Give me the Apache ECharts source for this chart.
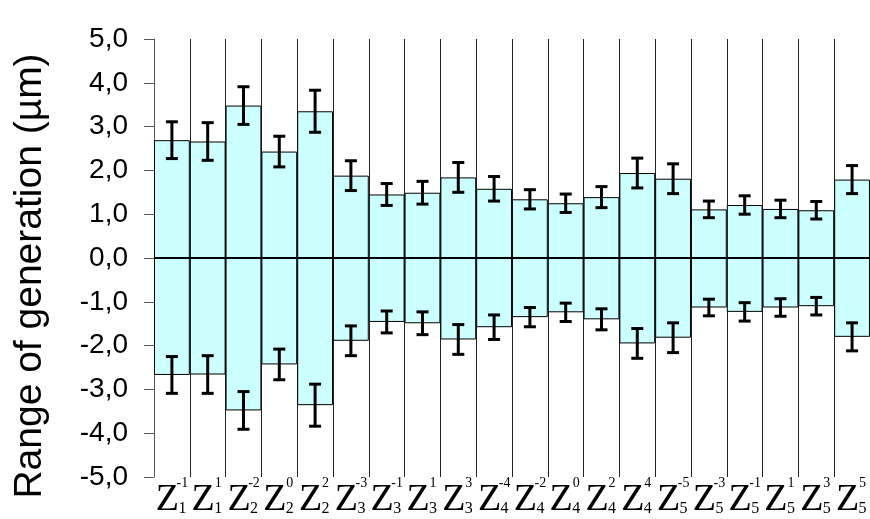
<!DOCTYPE html>
<html>
<head>
<meta charset="utf-8">
<script src="https://cdn.jsdelivr.net/npm/echarts@6/dist/echarts.min.js"></script>
<style>
html,body{margin:0;padding:0;background:#fff;}
#c{width:870px;height:519px;}
</style>
</head>
<body>
<div id="c"></div>
<script>
// Zernike indices for the category labels: Z_n^m
var zernikeN = [1, 1, 2, 2, 2, 3, 3, 3, 3, 4, 4, 4, 4, 4, 5, 5, 5, 5, 5, 5];
var zernikeM = [-1, 1, -2, 0, 2, -3, -1, 1, 3, -4, -2, 0, 2, 4, -5, -3, -1, 1, 3, 5];
var categories = zernikeN.map(function (n, i) { return 'Z' + n + '^' + zernikeM[i]; });

// Range of generation (µm)
var upperValues = [2.69, 2.66, 3.48, 2.43, 3.35, 1.88, 1.45, 1.49, 1.84, 1.58, 1.34, 1.25, 1.39, 1.94, 1.81, 1.11, 1.21, 1.12, 1.09, 1.79];
var lowerValues = [-2.67, -2.66, -3.48, -2.43, -3.36, -1.89, -1.46, -1.49, -1.86, -1.58, -1.35, -1.24, -1.40, -1.95, -1.82, -1.13, -1.23, -1.13, -1.10, -1.80];
var errorValues = [0.42, 0.43, 0.43, 0.35, 0.48, 0.34, 0.25, 0.26, 0.34, 0.28, 0.22, 0.21, 0.24, 0.34, 0.34, 0.19, 0.21, 0.20, 0.20, 0.32];

var yTicks = { min: -5, max: 5, interval: 1 };

var errorData = [];
categories.forEach(function (c, i) {
  errorData.push([i, upperValues[i], errorValues[i]]);
  errorData.push([i, lowerValues[i], errorValues[i]]);
});

var chart = echarts.init(document.getElementById('c'), null, { renderer: 'canvas' });

function renderError(params, api) {
  var x = api.value(0), v = api.value(1), e = api.value(2);
  var hi = api.coord([x, v + e]);
  var lo = api.coord([x, v - e]);
  var hw = 6;
  var st = { stroke: '#000', lineWidth: 3 };
  return {
    type: 'group',
    children: [
      { type: 'line', shape: { x1: hi[0], y1: hi[1], x2: lo[0], y2: lo[1] }, style: st },
      { type: 'line', shape: { x1: hi[0] - hw, y1: hi[1], x2: hi[0] + hw, y2: hi[1] }, style: st },
      { type: 'line', shape: { x1: lo[0] - hw, y1: lo[1], x2: lo[0] + hw, y2: lo[1] }, style: st }
    ]
  };
}

var option = {
  animation: false,
  backgroundColor: '#fff',
  grid: { left: 154, right: -3, top: 39, bottom: 40, containLabel: false },
  xAxis: [
    {
      type: 'category',
      data: categories,
      position: 'bottom',
      axisLine: { show: false, onZero: false },
      axisTick: { show: false },
      splitLine: { show: true, interval: 0, lineStyle: { color: '#222', width: 1 } },
      axisLabel: {
        interval: 0,
        margin: 5,
        formatter: function (v, i) { return '{z|Z}{sub|' + zernikeN[i] + '}'; },
        rich: {
          z: { fontFamily: 'Liberation Serif', fontSize: 38, color: '#000', width: 21, align: 'center', lineHeight: 36, verticalAlign: 'middle' },
          sub: { fontFamily: 'Liberation Serif', fontSize: 16, color: '#000', width: 9, align: 'left', lineHeight: 15, verticalAlign: 'bottom', padding: [0, 0, 1, 0] }
        }
      }
    },
    {
      type: 'category',
      data: categories,
      position: 'bottom',
      axisLine: { show: false, onZero: false },
      axisTick: { show: false },
      splitLine: { show: false },
      axisLabel: {
        interval: 0,
        margin: 0,
        formatter: function (v, i) { return '{g|}{sup|' + zernikeM[i] + '}'; },
        rich: {
          g: { width: 21, height: 13 },
          sup: { fontFamily: 'Liberation Serif', fontSize: 14, color: '#000', width: 9, align: 'left', lineHeight: 13 }
        }
      }
    }
  ],
  yAxis: {
    type: 'value',
    min: yTicks.min,
    max: yTicks.max,
    interval: yTicks.interval,
    name: 'Range of generation (µm)',
    nameLocation: 'middle',
    nameGap: 104,
    nameTextStyle: { fontFamily: 'Liberation Sans', fontSize: 39, color: '#000', padding: [0, 36, 0, 0] },
    axisLine: { show: true, lineStyle: { color: '#555', width: 1 } },
    axisTick: { show: true, length: 10, lineStyle: { color: '#555', width: 1 } },
    splitLine: { show: false },
    axisLabel: {
      margin: 26,
      fontFamily: 'Liberation Sans',
      fontSize: 28,
      color: '#000',
      formatter: function (v) { return v.toFixed(1).replace('.', ','); }
    }
  },
  series: [
    {
      type: 'bar',
      xAxisIndex: 0,
      data: upperValues,
      barCategoryGap: 0,
      barGap: '-100%',
      itemStyle: { color: '#ccffff', borderColor: '#000', borderWidth: 1 },
      markLine: {
        silent: true,
        symbol: ['none', 'none'],
        label: { show: false },
        lineStyle: { color: '#000', width: 2, type: 'solid' },
        data: [{ yAxis: 0 }]
      }
    },
    {
      type: 'bar',
      xAxisIndex: 0,
      data: lowerValues,
      barCategoryGap: 0,
      barGap: '-100%',
      itemStyle: { color: '#ccffff', borderColor: '#000', borderWidth: 1 }
    },
    {
      type: 'custom',
      xAxisIndex: 0,
      renderItem: renderError,
      data: errorData,
      z: 10
    }
  ]
};
chart.setOption(option);
</script>
</body>
</html>
